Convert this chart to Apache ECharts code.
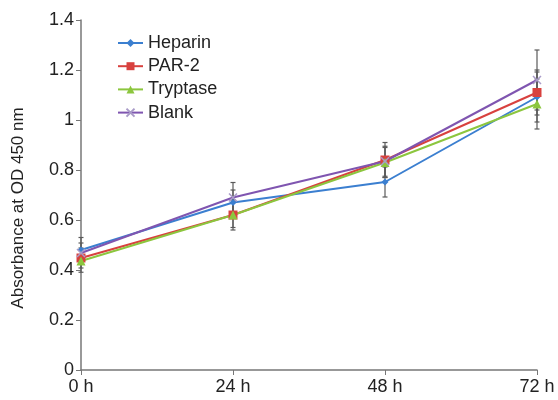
<!DOCTYPE html>
<html><head><meta charset="utf-8">
<script src="https://cdn.jsdelivr.net/npm/echarts@6/dist/echarts.min.js"></script>
<style>html,body{margin:0;padding:0;background:#fff}#c{width:558px;height:400px}</style>
</head><body><div id="c"></div>
<script>
var categories = ['0 h', '24 h', '48 h', '72 h'];
var heparin = [0.48, 0.67, 0.752, 1.092];
var par2 = [0.448, 0.62, 0.84, 1.11];
var tryptase = [0.436, 0.62, 0.83, 1.064];
var blank = [0.468, 0.69, 0.835, 1.16];
var heparinErr = [0.05, 0.05, 0.06, 0.10];
var par2Err = [0.04, 0.05, 0.07, 0.09];
var tryptaseErr = [0.045, 0.06, 0.06, 0.10];
var blankErr = [0.04, 0.06, 0.06, 0.12];
var yTitle = 'Absorbance at OD 450 nm';

var font = 'Liberation Sans, Arial, sans-serif';
function errData(vals, errs) {
  return vals.map(function (v, i) { return [i, v - errs[i], v + errs[i]]; });
}
function errSeries(vals, errs) {
  return {
    type: 'custom', silent: true, z: 1,
    data: errData(vals, errs),
    renderItem: function (params, api) {
      var x = api.value(0);
      var lo = api.coord([x, api.value(1)]);
      var hi = api.coord([x, api.value(2)]);
      var w = 2.5;
      var st = { stroke: '#5a5a5a', lineWidth: 1.2 };
      return { type: 'group', children: [
        { type: 'line', shape: { x1: lo[0], y1: lo[1], x2: hi[0], y2: hi[1] }, style: st },
        { type: 'line', shape: { x1: lo[0] - w, y1: lo[1], x2: lo[0] + w, y2: lo[1] }, style: st },
        { type: 'line', shape: { x1: hi[0] - w, y1: hi[1], x2: hi[0] + w, y2: hi[1] }, style: st }
      ]};
    }
  };
}
function lineSeries(name, vals, color, symbol, size, itemStyle) {
  return {
    name: name, type: 'line', data: vals, z: 3,
    symbol: symbol, symbolSize: size, showSymbol: true,
    lineStyle: { color: color, width: 2 },
    itemStyle: itemStyle || { color: color },
    emphasis: { disabled: true }
  };
}
var chart = echarts.init(document.getElementById('c'));
chart.setOption({
  animation: false,
  backgroundColor: '#fff',
  grid: { left: 81, right: 21, top: 20, bottom: 30 },
  legend: {
    orient: 'vertical', left: 117, top: 34, padding: 0, itemGap: 5.2,
    itemWidth: 25, itemHeight: 10,
    textStyle: { fontFamily: font, fontSize: 18, color: '#222', lineHeight: 18 },
    data: ['Heparin', 'PAR-2', 'Tryptase', 'Blank']
  },
  graphic: [{
    type: 'text', x: 18, y: 208, rotation: Math.PI / 2,
    style: { text: yTitle, fontFamily: font, fontSize: 17, fill: '#222', align: 'center', verticalAlign: 'middle' }
  }],
  xAxis: {
    type: 'category', data: categories, boundaryGap: false,
    axisLine: { lineStyle: { color: '#777', width: 1.5 } },
    axisTick: { alignWithLabel: true, length: 5, lineStyle: { color: '#777' } },
    axisLabel: { fontFamily: font, fontSize: 18, color: '#222', margin: 8 },
    splitLine: { show: false }
  },
  yAxis: {
    type: 'value', min: 0, max: 1.4, interval: 0.2,
    axisLine: { show: true, lineStyle: { color: '#777', width: 1.5 } },
    axisTick: { show: true, length: 5, lineStyle: { color: '#777' } },
    axisLabel: { fontFamily: font, fontSize: 18, color: '#222', margin: 7 },
    splitLine: { show: false }
  },
  series: [
    errSeries(heparin, heparinErr),
    errSeries(par2, par2Err),
    errSeries(tryptase, tryptaseErr),
    errSeries(blank, blankErr),
    lineSeries('Heparin', heparin, '#3b7fd0', 'diamond', 7),
    lineSeries('PAR-2', par2, '#d8413e', 'rect', 9),
    lineSeries('Tryptase', tryptase, '#8cc63e', 'triangle', 9),
    lineSeries('Blank', blank, '#7f55b0', 'path://M0,0L10,10M10,0L0,10', 8,
      { color: 'none', borderColor: '#a99bc8', borderWidth: 1.5 })
  ]
});
</script></body></html>
